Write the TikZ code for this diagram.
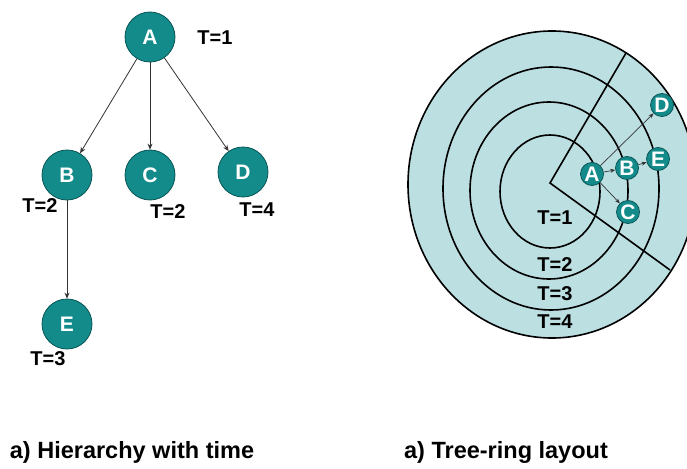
\documentclass[tikz,border=0pt]{standalone}
\usepackage{fontspec}
\setmainfont{Liberation Sans}
\usetikzlibrary{arrows.meta}
\definecolor{teal1}{HTML}{138B8B}
\definecolor{tealdark}{HTML}{0A5555}
\definecolor{ringfill}{HTML}{BCDFE2}
\begin{document}
\begin{tikzpicture}[x=1pt,y=-1pt,
  bignode/.style={circle,fill=teal1,draw=tealdark,line width=0.8pt,minimum size=50pt,inner sep=0pt,
    text=white,font=\bfseries\fontsize{21}{24}\selectfont},
  smallnode/.style={circle,fill=teal1,draw=tealdark,line width=0.8pt,minimum size=23pt,inner sep=0pt,
    text=white,font=\bfseries\fontsize{21}{24}\selectfont},
  tlab/.style={font=\bfseries\fontsize{20}{23}\selectfont,text=black,inner sep=0pt},
  caption/.style={font=\bfseries\fontsize{23.5}{27}\selectfont,text=black,inner sep=0pt},
  conn/.style={draw=black!80,line width=0.8pt,-{Stealth[length=6pt,width=5pt]}},
  sconn/.style={draw=black!80,line width=0.7pt,-{Stealth[length=5pt,width=4pt]}},
  ring/.style={draw=black,line width=1.6pt}
]
\useasboundingbox (0,0) rectangle (687,468);
% ---- left: hierarchy
\node[bignode] (A) at (150,37) {A};
\node[bignode] (B) at (67,175) {B};
\node[bignode] (C) at (150,175) {C};
\node[bignode] (D) at (243,172) {D};
\node[bignode] (E) at (67,324) {E};
\draw[conn] (A) -- (B);
\draw[conn] (A) -- (C);
\draw[conn] (A) -- (D);
\draw[conn] (B) -- (E);
\node[tlab] (tA) at (215,38) {T=1};
\node[tlab] (tB) at (40,206) {T=2};
\node[tlab] (tC) at (168,212) {T=2};
\node[tlab] (tD) at (257,210) {T=4};
\node[tlab] (tE) at (48,359) {T=3};
\node[caption] (cap1) at (132,452) {a) Hierarchy with time};
% ---- right: tree-ring
\begin{scope}
\clip (0,0) rectangle (687,468);
\fill[ringfill] (552,184.5) ellipse [x radius=144, y radius=153.5];
\draw[ring] (552,184.5) ellipse [x radius=144, y radius=153.5];
\draw[ring] (551,188.5) ellipse [x radius=108, y radius=121.5];
\draw[ring] (549,190.5) ellipse [x radius=79, y radius=88.5];
\draw[ring] (550,191.5) ellipse [x radius=50, y radius=56.5];
\end{scope}
\coordinate (O) at (550,183);
\coordinate (W1) at (626,53);
\coordinate (W2) at (670,270);
\draw[ring,line join=miter] (W1) -- (O) -- (W2);
\node[smallnode] (a) at (592,174) {A};
\node[smallnode] (b) at (627,168) {B};
\node[smallnode] (e) at (658,159) {E};
\node[smallnode] (d) at (662,105) {D};
\node[smallnode] (c) at (628,212) {C};
\draw[sconn] (a) -- (d);
\draw[sconn] (a) -- (b);
\draw[sconn] (b) -- (e);
\draw[sconn] (a) -- (c);
\node[tlab] (r1) at (555,218) {T=1};
\node[tlab] (r2) at (555,265) {T=2};
\node[tlab] (r3) at (555,294) {T=3};
\node[tlab] (r4) at (555,322) {T=4};
\node[caption] (cap2) at (506,452) {a) Tree-ring layout};
\end{tikzpicture}
\end{document}
